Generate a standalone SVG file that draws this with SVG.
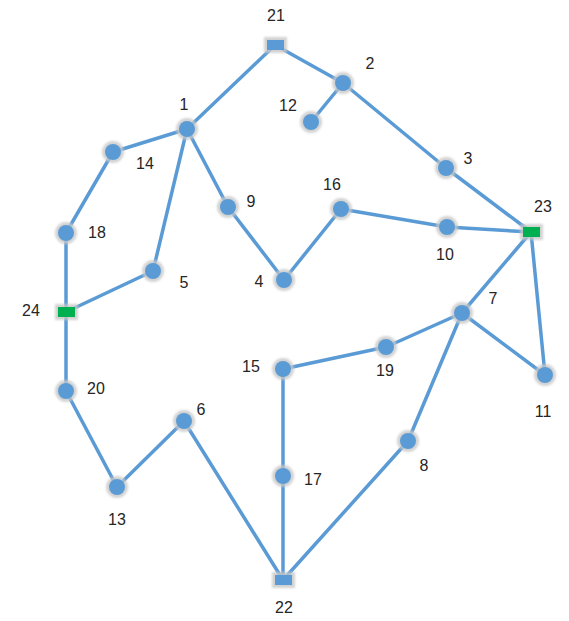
<svg xmlns="http://www.w3.org/2000/svg" width="569" height="621" viewBox="0 0 569 621">
<defs>
<style>
.e{stroke:#5b9bd5;stroke-width:3.5;fill:none;stroke-linecap:round}
.h{fill:#c8c8c8;opacity:0.8}
.c{fill:#5b9bd5}
.g{fill:#00b050}
.t{font-family:"Liberation Sans",Arial,sans-serif;font-size:16px;fill:#262626;text-anchor:middle;dominant-baseline:middle}
</style>
<filter id="b" x="-50%" y="-50%" width="200%" height="200%"><feGaussianBlur stdDeviation="1.2"/></filter>
</defs>
<rect width="569" height="621" fill="#fff"/>
<g id="edges">
<line class="e" x1="275" y1="45" x2="187" y2="129"/>
<line class="e" x1="275" y1="45" x2="343" y2="83"/>
<line class="e" x1="343" y1="83" x2="311" y2="122"/>
<line class="e" x1="343" y1="83" x2="446" y2="168"/>
<line class="e" x1="446" y1="168" x2="531" y2="232"/>
<line class="e" x1="187" y1="129" x2="113" y2="152"/>
<line class="e" x1="187" y1="129" x2="228" y2="207"/>
<line class="e" x1="187" y1="129" x2="153" y2="271"/>
<line class="e" x1="113" y1="152" x2="66" y2="233"/>
<line class="e" x1="66" y1="233" x2="66" y2="312"/>
<line class="e" x1="153" y1="271" x2="66" y2="312"/>
<line class="e" x1="66" y1="312" x2="66" y2="391"/>
<line class="e" x1="66" y1="391" x2="117" y2="487"/>
<line class="e" x1="117" y1="487" x2="184" y2="421"/>
<line class="e" x1="184" y1="421" x2="283" y2="580"/>
<line class="e" x1="228" y1="207" x2="284" y2="280"/>
<line class="e" x1="284" y1="280" x2="341" y2="209"/>
<line class="e" x1="341" y1="209" x2="447" y2="227"/>
<line class="e" x1="447" y1="227" x2="531" y2="232"/>
<line class="e" x1="531" y1="232" x2="462" y2="313"/>
<line class="e" x1="531" y1="232" x2="545" y2="375"/>
<line class="e" x1="462" y1="313" x2="545" y2="375"/>
<line class="e" x1="462" y1="313" x2="386" y2="347"/>
<line class="e" x1="386" y1="347" x2="283" y2="369"/>
<line class="e" x1="283" y1="369" x2="283" y2="476"/>
<line class="e" x1="283" y1="476" x2="283" y2="580"/>
<line class="e" x1="462" y1="313" x2="408" y2="441"/>
<line class="e" x1="408" y1="441" x2="283" y2="580"/>
</g>
<g id="n21"><rect class="h" x="264" y="37" width="23" height="16" filter="url(#b)"/><rect class="c" x="267" y="40" width="17" height="10"/><text class="t" x="276" y="17">21</text></g>
<g id="n22"><rect class="h" x="272" y="572" width="23" height="16" filter="url(#b)"/><rect class="c" x="275" y="575" width="17" height="10"/><text class="t" x="284" y="609">22</text></g>
<g id="n23"><rect class="h" x="520" y="224" width="23" height="16" filter="url(#b)"/><rect class="g" x="523" y="227" width="17" height="10"/><text class="t" x="543" y="208">23</text></g>
<g id="n24"><rect class="h" x="55" y="304" width="23" height="16" filter="url(#b)"/><rect class="g" x="58" y="307" width="17" height="10"/><text class="t" x="31" y="312">24</text></g>
<g id="n1"><circle class="h" cx="187" cy="129" r="11" filter="url(#b)"/><circle class="c" cx="187" cy="129" r="8"/><text class="t" x="184" y="106">1</text></g>
<g id="n2"><circle class="h" cx="343" cy="83" r="11" filter="url(#b)"/><circle class="c" cx="343" cy="83" r="8"/><text class="t" x="370" y="65">2</text></g>
<g id="n3"><circle class="h" cx="446" cy="168" r="11" filter="url(#b)"/><circle class="c" cx="446" cy="168" r="8"/><text class="t" x="468" y="160">3</text></g>
<g id="n4"><circle class="h" cx="284" cy="280" r="11" filter="url(#b)"/><circle class="c" cx="284" cy="280" r="8"/><text class="t" x="259" y="283">4</text></g>
<g id="n5"><circle class="h" cx="153" cy="271" r="11" filter="url(#b)"/><circle class="c" cx="153" cy="271" r="8"/><text class="t" x="184" y="284">5</text></g>
<g id="n6"><circle class="h" cx="184" cy="421" r="11" filter="url(#b)"/><circle class="c" cx="184" cy="421" r="8"/><text class="t" x="201" y="411">6</text></g>
<g id="n7"><circle class="h" cx="462" cy="313" r="11" filter="url(#b)"/><circle class="c" cx="462" cy="313" r="8"/><text class="t" x="493" y="300">7</text></g>
<g id="n8"><circle class="h" cx="408" cy="441" r="11" filter="url(#b)"/><circle class="c" cx="408" cy="441" r="8"/><text class="t" x="424" y="467">8</text></g>
<g id="n9"><circle class="h" cx="228" cy="207" r="11" filter="url(#b)"/><circle class="c" cx="228" cy="207" r="8"/><text class="t" x="251" y="203">9</text></g>
<g id="n10"><circle class="h" cx="447" cy="227" r="11" filter="url(#b)"/><circle class="c" cx="447" cy="227" r="8"/><text class="t" x="445" y="256">10</text></g>
<g id="n11"><circle class="h" cx="545" cy="375" r="11" filter="url(#b)"/><circle class="c" cx="545" cy="375" r="8"/><text class="t" x="543" y="413">11</text></g>
<g id="n12"><circle class="h" cx="311" cy="122" r="11" filter="url(#b)"/><circle class="c" cx="311" cy="122" r="8"/><text class="t" x="288" y="107">12</text></g>
<g id="n13"><circle class="h" cx="117" cy="487" r="11" filter="url(#b)"/><circle class="c" cx="117" cy="487" r="8"/><text class="t" x="117" y="521">13</text></g>
<g id="n14"><circle class="h" cx="113" cy="152" r="11" filter="url(#b)"/><circle class="c" cx="113" cy="152" r="8"/><text class="t" x="145" y="165">14</text></g>
<g id="n15"><circle class="h" cx="283" cy="369" r="11" filter="url(#b)"/><circle class="c" cx="283" cy="369" r="8"/><text class="t" x="251" y="368">15</text></g>
<g id="n16"><circle class="h" cx="341" cy="209" r="11" filter="url(#b)"/><circle class="c" cx="341" cy="209" r="8"/><text class="t" x="332" y="186">16</text></g>
<g id="n17"><circle class="h" cx="283" cy="476" r="11" filter="url(#b)"/><circle class="c" cx="283" cy="476" r="8"/><text class="t" x="313" y="481">17</text></g>
<g id="n18"><circle class="h" cx="66" cy="233" r="11" filter="url(#b)"/><circle class="c" cx="66" cy="233" r="8"/><text class="t" x="97" y="234">18</text></g>
<g id="n19"><circle class="h" cx="386" cy="347" r="11" filter="url(#b)"/><circle class="c" cx="386" cy="347" r="8"/><text class="t" x="385" y="372">19</text></g>
<g id="n20"><circle class="h" cx="66" cy="391" r="11" filter="url(#b)"/><circle class="c" cx="66" cy="391" r="8"/><text class="t" x="96" y="390">20</text></g>
</svg>
